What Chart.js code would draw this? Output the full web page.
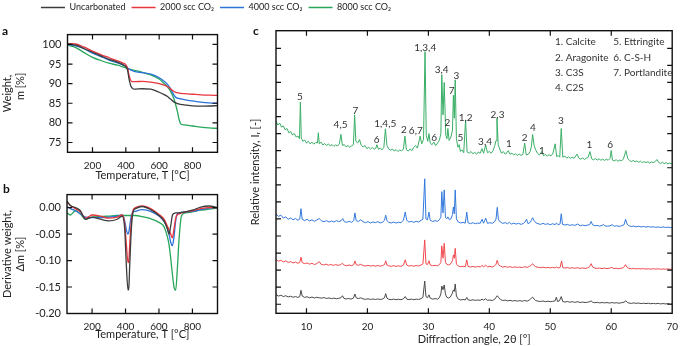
<!DOCTYPE html>
<html>
<head>
<meta charset="utf-8">
<script src="https://cdn.jsdelivr.net/npm/chart.js@4.4.1/dist/chart.umd.min.js"></script>
<style>
  body { margin: 0; background: #fff; }
  #wrap { position: relative; width: 685px; height: 346px; overflow: hidden; }
  canvas { position: absolute; }
</style>
</head>
<body>
<div id="wrap">
  <canvas id="legend" width="432" height="40" style="left:0;top:-3px"></canvas>
  <canvas id="tga" width="228" height="160" style="left:0;top:22px"></canvas>
  <canvas id="dtg" width="228" height="164" style="left:0;top:182px"></canvas>
  <canvas id="xrd" width="453" height="324" style="left:232px;top:22px"></canvas>
</div>
<script>
// series names and colours
const seriesNames = ['Uncarbonated', '2000 scc CO\u2082', '4000 scc CO\u2082', '8000 scc CO\u2082']
const seriesColors = ['#3c3c3c', '#e8363c', '#2b73d8', '#27a65a']
const xrdColors = ['#4a4a4a', '#ef4a4f', '#3379dc', '#3aae66']

// (a) TGA: weight [%] vs temperature [C]
const tgaTemp = [50, 100, 150, 200, 250, 300, 350, 380, 400, 410, 420, 430, 440, 450, 500, 550, 600, 630, 650, 670, 690, 700, 710, 720, 730, 750, 800, 850, 900, 950]
const tgaUncarb = [100.1, 99.8, 98.9, 98.0, 97.1, 96.2, 95.5, 94.9, 94.3, 93.5, 91.0, 89.4, 88.8, 88.6, 88.7, 88.6, 87.8, 87.2, 86.7, 86.0, 85.3, 85.1, 84.9, 84.8, 84.7, 84.6, 84.35, 84.25, 84.3, 84.4]
const tga2000 = [100.2, 100.1, 99.3, 98.3, 97.4, 96.6, 95.8, 95.3, 94.8, 94.0, 92.0, 90.8, 90.5, 90.5, 90.6, 90.4, 90.0, 89.6, 89.2, 88.6, 88.0, 87.8, 87.7, 87.6, 87.5, 87.45, 87.3, 87.15, 87.05, 87.0]
const tga4000 = [100.0, 99.6, 98.9, 97.8, 96.9, 96.0, 95.3, 94.8, 94.4, 94.0, 93.7, 93.5, 93.3, 93.1, 92.8, 92.4, 91.5, 90.6, 89.8, 88.6, 87.0, 86.5, 86.3, 86.2, 86.1, 85.9, 85.6, 85.3, 85.1, 85.0]
const tga8000 = [99.8, 99.2, 97.9, 96.7, 95.9, 95.2, 94.7, 94.3, 94.0, 93.8, 93.7, 93.6, 93.5, 93.4, 92.9, 92.2, 91.2, 90.0, 89.2, 87.9, 86.0, 84.5, 82.8, 80.8, 79.7, 79.5, 79.2, 78.9, 78.7, 78.6]
const tempTicks = [200, 400, 600, 800]
const weightTicks = [75, 80, 85, 90, 95, 100]

// (b) DTG: derivative weight vs temperature
const dtgTemp = [50, 70, 100, 130, 160, 180, 200, 250, 300, 350, 380, 395, 405, 415, 420, 425, 435, 445, 460, 500, 550, 600, 630, 650, 660, 670, 680, 690, 700, 710, 720, 735, 760, 800, 850, 900, 950]
const dtgUncarb = [0.012, 0.004, 0.0, -0.006, -0.022, -0.02, -0.018, -0.022, -0.025, -0.022, -0.016, -0.04, -0.11, -0.156, -0.15, -0.11, -0.04, -0.008, -0.002, 0.002, -0.004, -0.015, -0.025, -0.04, -0.05, -0.035, -0.015, -0.011, -0.01, -0.01, -0.01, -0.009, -0.008, -0.005, 0.001, 0.003, 0.0]
const dtg2000 = [0.01, 0.004, -0.002, -0.008, -0.02, -0.017, -0.014, -0.016, -0.02, -0.018, -0.014, -0.03, -0.07, -0.104, -0.1, -0.07, -0.025, -0.005, 0.0, 0.003, -0.002, -0.013, -0.022, -0.035, -0.042, -0.05, -0.057, -0.04, -0.02, -0.013, -0.012, -0.01, -0.008, -0.006, -0.002, 0.0, 0.0]
const dtg4000 = [0.002, -0.002, -0.006, -0.012, -0.018, -0.019, -0.019, -0.019, -0.018, -0.016, -0.014, -0.025, -0.042, -0.05, -0.046, -0.035, -0.015, -0.009, -0.007, -0.004, -0.007, -0.016, -0.026, -0.038, -0.05, -0.065, -0.072, -0.055, -0.025, -0.012, -0.01, -0.009, -0.008, -0.007, -0.004, -0.001, 0.0]
const dtg8000 = [-0.01, -0.014, -0.006, -0.012, -0.022, -0.02, -0.018, -0.017, -0.016, -0.015, -0.015, -0.015, -0.015, -0.015, -0.015, -0.015, -0.015, -0.015, -0.015, -0.017, -0.021, -0.028, -0.036, -0.055, -0.07, -0.095, -0.125, -0.15, -0.156, -0.115, -0.06, -0.015, -0.01, -0.008, -0.005, -0.003, -0.001]
const dtgTicks = [-0.2, -0.15, -0.1, -0.05, 0]

// (c) XRD: [2theta, relative intensity] (patterns stacked with offsets)
const xrdUncarb = [[5,1.56],[5.4,1.48],[5.8,1.53],[6.2,1.45],[6.6,1.5],[7.0,1.43],[7.4,1.47],[7.8,1.41],[8.2,1.45],[8.6,1.4],[8.9,1.45],[9.1,1.82],[9.3,1.48],[9.7,1.4],[10.1,1.44],[10.5,1.38],[10.9,1.42],[11.3,1.37],[11.7,1.41],[12.1,1.38],[12.5,1.36],[12.9,1.39],[13.3,1.34],[13.7,1.37],[14.1,1.33],[14.5,1.36],[14.9,1.32],[15.3,1.35],[15.65,1.38],[15.9,1.5],[16.15,1.34],[16.5,1.31],[16.9,1.34],[17.3,1.3],[17.7,1.36],[17.95,1.6],[18.15,1.38],[18.5,1.33],[18.9,1.38],[19.3,1.31],[19.7,1.29],[20.1,1.32],[20.5,1.28],[20.9,1.31],[21.3,1.28],[21.7,1.31],[22.1,1.28],[22.5,1.31],[22.8,1.38],[23.0,1.62],[23.2,1.36],[23.5,1.29],[23.9,1.27],[24.3,1.3],[24.7,1.27],[25.1,1.29],[25.5,1.27],[25.9,1.32],[26.2,1.45],[26.45,1.3],[26.8,1.27],[27.2,1.3],[27.6,1.27],[28.0,1.3],[28.4,1.28],[28.8,1.33],[29.1,1.4],[29.4,2.36],[29.6,1.45],[29.85,1.38],[30.1,1.55],[30.3,1.36],[30.7,1.3],[31.1,1.33],[31.5,1.3],[31.8,1.38],[32.05,1.6],[32.2,2.07],[32.4,1.85],[32.6,2.13],[32.8,1.6],[33.0,1.42],[33.3,1.36],[33.6,1.42],[33.9,1.62],[34.1,1.84],[34.25,1.75],[34.4,2.19],[34.6,1.48],[34.9,1.3],[35.3,1.25],[35.7,1.28],[36.05,1.25],[36.3,1.4],[36.5,1.26],[36.9,1.23],[37.3,1.26],[37.7,1.23],[38.1,1.25],[38.5,1.23],[38.8,1.3],[39.05,1.24],[39.4,1.32],[39.7,1.23],[40.1,1.25],[40.5,1.22],[40.9,1.3],[41.1,1.4],[41.3,1.5],[41.55,1.38],[41.8,1.28],[42.2,1.22],[42.6,1.24],[43.0,1.2],[43.4,1.23],[43.8,1.19],[44.2,1.22],[44.6,1.18],[45.0,1.21],[45.4,1.18],[45.8,1.22],[46.2,1.18],[46.6,1.26],[46.85,1.34],[47.1,1.42],[47.35,1.3],[47.6,1.22],[48.0,1.18],[48.4,1.16],[48.8,1.19],[49.2,1.15],[49.6,1.18],[50.0,1.15],[50.4,1.17],[50.8,1.2],[51.0,1.42],[51.2,1.16],[51.5,1.2],[51.8,1.45],[52.05,1.16],[52.4,1.13],[52.8,1.16],[53.2,1.12],[53.6,1.15],[54.0,1.11],[54.5,1.15],[54.9,1.1],[55.3,1.13],[55.7,1.1],[56.1,1.12],[56.5,1.15],[56.7,1.2],[56.95,1.12],[57.3,1.09],[57.7,1.11],[58.1,1.08],[58.5,1.1],[58.9,1.08],[59.3,1.1],[59.7,1.07],[60.1,1.1],[60.5,1.07],[60.9,1.09],[61.3,1.06],[61.7,1.09],[62.1,1.12],[62.4,1.2],[62.65,1.1],[62.9,1.07],[63.3,1.05],[63.7,1.08],[64.1,1.05],[64.5,1.07],[64.9,1.04],[65.3,1.06],[65.7,1.04],[66.1,1.06],[66.5,1.03],[66.9,1.05],[67.3,1.03],[67.7,1.05],[68.1,1.02],[68.5,1.04],[68.9,1.02],[69.3,1.04],[69.7,1.01],[70,1.02]]
const xrd2000 = [[5,3.62],[5.4,3.52],[5.8,3.58],[6.2,3.48],[6.6,3.54],[7.0,3.45],[7.4,3.5],[7.8,3.42],[8.2,3.47],[8.6,3.4],[8.9,3.45],[9.1,3.76],[9.3,3.44],[9.7,3.38],[10.1,3.42],[10.5,3.35],[10.9,3.4],[11.3,3.33],[11.7,3.38],[12.1,3.5],[12.4,3.34],[12.8,3.3],[13.2,3.35],[13.6,3.29],[14.0,3.33],[14.4,3.28],[14.8,3.32],[15.2,3.28],[15.6,3.32],[15.9,3.4],[16.2,3.29],[16.6,3.26],[17.0,3.3],[17.4,3.26],[17.75,3.32],[17.95,3.54],[18.15,3.32],[18.5,3.28],[18.9,3.34],[19.3,3.27],[19.7,3.24],[20.1,3.28],[20.5,3.24],[20.9,3.27],[21.3,3.23],[21.7,3.27],[22.1,3.23],[22.5,3.27],[22.8,3.32],[23.0,3.55],[23.2,3.3],[23.5,3.25],[23.9,3.22],[24.3,3.26],[24.7,3.22],[25.1,3.25],[25.5,3.22],[25.9,3.3],[26.2,3.6],[26.45,3.3],[26.8,3.24],[27.2,3.27],[27.6,3.23],[28.0,3.27],[28.4,3.24],[28.8,3.3],[29.1,3.35],[29.4,4.77],[29.6,3.38],[29.85,3.32],[30.1,3.55],[30.3,3.3],[30.7,3.26],[31.1,3.28],[31.5,3.25],[31.8,3.32],[32.05,3.45],[32.2,4.42],[32.4,3.7],[32.6,4.57],[32.8,3.45],[33.0,3.35],[33.3,3.3],[33.6,3.35],[33.95,3.55],[34.1,3.89],[34.25,3.7],[34.4,4.28],[34.6,3.35],[34.9,3.24],[35.3,3.2],[35.7,3.23],[36.05,3.2],[36.3,3.6],[36.5,3.22],[36.9,3.18],[37.3,3.22],[37.7,3.18],[38.1,3.21],[38.5,3.19],[38.8,3.27],[39.05,3.2],[39.4,3.29],[39.7,3.19],[40.1,3.22],[40.5,3.18],[40.9,3.26],[41.1,3.35],[41.3,3.58],[41.5,3.32],[41.8,3.24],[42.2,3.18],[42.6,3.21],[43.0,3.17],[43.4,3.2],[43.8,3.16],[44.2,3.19],[44.6,3.16],[45.0,3.18],[45.4,3.15],[45.8,3.2],[46.2,3.16],[46.6,3.22],[46.85,3.28],[47.1,3.38],[47.35,3.26],[47.6,3.2],[48.0,3.16],[48.4,3.14],[48.8,3.17],[49.2,3.14],[49.6,3.16],[50.0,3.13],[50.4,3.16],[50.8,3.13],[51.0,3.18],[51.3,3.13],[51.6,3.15],[51.85,3.54],[52.05,3.15],[52.4,3.12],[52.8,3.15],[53.2,3.11],[53.6,3.14],[54.0,3.11],[54.5,3.14],[54.9,3.1],[55.3,3.13],[55.7,3.1],[56.1,3.13],[56.45,3.2],[56.7,3.38],[56.95,3.18],[57.3,3.12],[57.7,3.1],[58.1,3.12],[58.5,3.09],[58.9,3.12],[59.3,3.09],[59.7,3.11],[60.1,3.16],[60.4,3.09],[60.8,3.11],[61.2,3.08],[61.6,3.11],[62.0,3.14],[62.35,3.32],[62.6,3.16],[62.9,3.1],[63.3,3.08],[63.7,3.1],[64.1,3.07],[64.5,3.09],[64.9,3.07],[65.3,3.09],[65.7,3.06],[66.1,3.08],[66.5,3.06],[66.9,3.08],[67.3,3.06],[67.7,3.08],[68.1,3.05],[68.5,3.07],[68.9,3.05],[69.3,3.07],[69.7,3.05],[70,3.06]]
const xrd4000 = [[5,6.28],[5.4,6.15],[5.8,6.22],[6.2,6.05],[6.6,6.12],[7.0,5.98],[7.4,6.05],[7.8,5.95],[8.2,6.02],[8.6,5.92],[8.9,6.0],[9.1,6.6],[9.3,5.98],[9.7,5.9],[10.1,5.98],[10.5,5.88],[10.9,5.95],[11.3,5.86],[11.7,5.94],[12.1,6.02],[12.5,5.88],[12.9,5.84],[13.3,5.9],[13.7,5.82],[14.1,5.88],[14.5,5.82],[14.9,5.9],[15.3,5.84],[15.7,5.9],[15.95,6.02],[16.2,5.84],[16.6,5.8],[17.0,5.86],[17.4,5.8],[17.75,5.9],[17.95,6.35],[18.15,5.9],[18.5,5.85],[18.9,5.95],[19.3,5.84],[19.7,5.78],[20.1,5.84],[20.5,5.76],[20.9,5.82],[21.3,5.78],[21.7,5.84],[22.1,5.76],[22.5,5.82],[22.8,5.92],[23.0,6.22],[23.2,5.9],[23.5,5.8],[23.9,5.76],[24.3,5.82],[24.7,5.76],[25.1,5.8],[25.5,5.78],[25.9,5.92],[26.2,6.4],[26.45,5.92],[26.8,5.82],[27.2,5.86],[27.6,5.8],[28.0,5.86],[28.4,5.82],[28.8,5.92],[29.1,5.98],[29.4,8.35],[29.6,6.0],[29.85,5.95],[30.1,6.4],[30.3,5.92],[30.7,5.85],[31.1,5.9],[31.5,5.86],[31.8,5.95],[32.05,6.1],[32.2,7.6],[32.4,6.35],[32.6,7.7],[32.8,6.1],[33.0,6.0],[33.2,6.12],[33.45,5.95],[33.7,6.0],[33.95,6.25],[34.1,6.7],[34.25,6.3],[34.4,7.7],[34.6,6.0],[34.9,5.82],[35.3,5.76],[35.7,5.8],[36.05,5.75],[36.3,6.4],[36.5,5.78],[36.9,5.72],[37.3,5.78],[37.7,5.72],[38.1,5.76],[38.5,5.74],[38.8,5.98],[39.05,5.75],[39.4,6.05],[39.7,5.74],[40.1,5.78],[40.5,5.74],[40.9,5.85],[41.1,6.0],[41.3,6.68],[41.5,5.95],[41.8,5.82],[42.2,5.74],[42.6,5.78],[43.0,5.72],[43.3,5.8],[43.6,5.7],[44.0,5.75],[44.4,5.7],[44.8,5.74],[45.2,5.68],[45.6,5.74],[45.85,5.82],[46.1,5.98],[46.35,5.72],[46.7,5.8],[46.9,5.92],[47.1,6.07],[47.35,5.9],[47.6,5.78],[48.0,5.72],[48.4,5.68],[48.8,5.74],[49.2,5.68],[49.6,5.72],[50.0,5.66],[50.4,5.72],[50.8,5.66],[51.0,5.76],[51.3,5.66],[51.6,5.7],[51.8,6.3],[52.0,5.68],[52.4,5.64],[52.8,5.68],[53.2,5.62],[53.6,5.66],[54.0,5.62],[54.5,5.7],[54.9,5.6],[55.3,5.64],[55.7,5.6],[56.1,5.64],[56.45,5.66],[56.7,5.85],[56.95,5.65],[57.3,5.6],[57.7,5.62],[58.1,5.58],[58.5,5.62],[58.7,5.68],[58.95,5.6],[59.4,5.57],[59.8,5.6],[60.15,5.66],[60.5,5.57],[60.9,5.6],[61.3,5.56],[61.7,5.6],[62.1,5.66],[62.35,5.98],[62.6,5.7],[62.9,5.6],[63.3,5.56],[63.7,5.58],[64.1,5.54],[64.5,5.57],[64.9,5.53],[65.3,5.56],[65.7,5.52],[66.1,5.55],[66.5,5.52],[66.9,5.54],[67.3,5.51],[67.7,5.53],[68.1,5.5],[68.5,5.53],[68.9,5.5],[69.3,5.52],[69.7,5.49],[70,5.5]]
const xrd8000 = [[5,11.72],[5.3,11.5],[5.6,11.62],[5.9,11.38],[6.2,11.45],[6.5,11.22],[6.8,11.3],[7.1,11.05],[7.4,11.12],[7.7,10.92],[8.0,11.0],[8.3,10.8],[8.6,10.86],[8.85,10.7],[9.0,12.85],[9.15,10.75],[9.4,10.55],[9.7,10.62],[10.0,10.45],[10.3,10.55],[10.6,10.4],[10.9,10.5],[11.2,10.38],[11.5,10.48],[11.8,10.45],[11.95,11.05],[12.1,10.4],[12.4,10.5],[12.7,10.33],[13.0,10.42],[13.3,10.3],[13.6,10.4],[13.9,10.28],[14.2,10.36],[14.5,10.25],[14.8,10.34],[15.1,10.27],[15.4,10.4],[15.65,10.95],[15.9,10.3],[16.2,10.36],[16.5,10.22],[16.8,10.3],[17.1,10.2],[17.4,10.28],[17.7,10.35],[17.9,12.1],[18.1,10.55],[18.4,10.45],[18.7,10.65],[19.0,10.3],[19.3,10.22],[19.6,10.3],[19.9,10.12],[20.2,10.2],[20.5,10.1],[20.8,10.18],[21.1,10.08],[21.4,10.16],[21.55,10.35],[21.8,10.08],[22.1,10.15],[22.4,10.05],[22.7,10.2],[22.95,11.28],[23.2,10.3],[23.5,10.1],[23.8,10.02],[24.1,10.1],[24.4,9.98],[24.7,10.06],[25.0,9.95],[25.3,10.04],[25.6,9.98],[25.9,10.1],[26.15,10.85],[26.4,10.05],[26.7,9.98],[27.0,10.1],[27.3,10.0],[27.6,10.2],[27.9,10.3],[28.2,10.15],[28.5,10.6],[28.65,10.85],[28.9,10.4],[29.2,10.65],[29.45,15.8],[29.65,10.9],[29.9,10.55],[30.1,11.0],[30.3,10.45],[30.6,10.35],[30.9,10.5],[31.2,10.3],[31.5,10.45],[31.8,10.6],[32.05,11.0],[32.2,14.45],[32.4,12.1],[32.6,14.0],[32.85,10.9],[33.05,10.7],[33.2,11.3],[33.4,10.6],[33.7,10.8],[33.95,11.2],[34.1,13.25],[34.25,11.9],[34.4,14.15],[34.6,10.7],[34.85,10.2],[35.05,10.35],[35.25,9.95],[35.5,10.05],[35.8,9.88],[36.1,11.8],[36.35,9.92],[36.7,9.85],[37.0,9.95],[37.3,9.82],[37.6,9.9],[37.9,9.8],[38.2,9.92],[38.5,9.85],[38.8,10.12],[39.05,9.85],[39.4,10.32],[39.7,9.88],[40.0,9.95],[40.3,9.85],[40.6,10.0],[40.9,10.3],[41.1,10.6],[41.25,11.9],[41.45,10.35],[41.7,10.1],[42.0,9.85],[42.3,9.95],[42.6,9.8],[42.9,9.88],[43.1,10.0],[43.4,9.78],[43.7,9.85],[44.0,9.75],[44.3,9.82],[44.6,9.72],[44.9,9.8],[45.2,9.72],[45.5,9.78],[45.8,10.45],[46.05,9.75],[46.4,9.8],[46.7,9.95],[46.9,10.25],[47.1,10.95],[47.35,10.3],[47.6,10.05],[47.9,9.85],[48.2,9.75],[48.6,9.95],[48.9,9.7],[49.2,9.78],[49.5,9.68],[49.8,9.76],[50.1,9.7],[50.4,9.8],[50.8,10.4],[51.05,9.65],[51.3,9.72],[51.55,9.62],[51.8,11.3],[52.05,9.62],[52.4,9.68],[52.7,9.56],[53.0,9.64],[53.3,9.55],[53.6,9.62],[53.9,9.55],[54.4,9.8],[54.7,9.55],[55.0,9.5],[55.3,9.58],[55.6,9.48],[55.9,9.56],[56.2,9.6],[56.5,9.95],[56.8,9.52],[57.1,9.46],[57.4,9.54],[57.7,9.45],[58.0,9.52],[58.3,9.44],[58.6,9.5],[58.9,9.43],[59.2,9.5],[59.5,9.44],[59.8,9.55],[60.0,10.0],[60.2,9.45],[60.5,9.4],[60.8,9.47],[61.1,9.38],[61.4,9.45],[61.7,9.4],[62.0,9.52],[62.2,9.75],[62.4,10.0],[62.7,9.55],[63.0,9.42],[63.3,9.36],[63.6,9.43],[63.9,9.35],[64.2,9.4],[64.5,9.32],[64.8,9.38],[65.1,9.3],[65.4,9.36],[65.7,9.3],[66.0,9.35],[66.3,9.28],[66.6,9.34],[66.9,9.3],[67.2,9.36],[67.5,9.48],[67.8,9.3],[68.1,9.25],[68.4,9.32],[68.7,9.24],[69.0,9.3],[69.3,9.22],[69.6,9.28],[70,9.2]]
const angleTicks = [10, 20, 30, 40, 50, 60, 70]
const intensityTicks = [1, 2, 3, 4, 5, 6, 7, 8, 9, 10, 11, 12, 13, 14, 15, 16]

// phase labels over the 8000 scc pattern
const peakLabels = ['5', '4,5', '7', '6', '1,4,5', '2', '6,7', '1,3,4', '6', '3,4', '2', '7', '3', '5', '1,2', '3,4', '2,3', '1', '2', '4', '1', '3', '1', '6']
const peakLabelAngle = [8.92, 15.59, 18.01, 21.52, 22.92, 25.99, 27.93, 29.48, 30.94, 32.18, 33.1, 33.8, 34.6, 35.25, 36.1, 39.29, 41.34, 43.21, 45.8, 47.16, 48.61, 51.73, 56.41, 59.8]
const peakLabelLevel = [13.16, 11.54, 12.32, 10.63, 11.57, 11.25, 11.15, 16.0, 10.73, 14.73, 11.66, 13.51, 14.37, 10.73, 11.9, 10.53, 12.13, 10.39, 10.76, 11.35, 10.0, 11.76, 10.33, 10.33]
const phaseKey = ['1. Calcite', '2. Aragonite', '3. C3S', '4. C2S', '5. Ettringite', '6. C-S-H', '7. Portlandite']

Chart.defaults.font.family = "Lato, 'DejaVu Sans', sans-serif"
Chart.defaults.color = '#222'
Chart.defaults.animation = false

// box round the plot with inward ticks on all four sides
const frameTicks = {
  id: 'frameTicks',
  afterDraw (chart, args, opts) {
    const { ctx, chartArea: a, scales } = chart
    const len = opts.len || 5
    ctx.save()
    ctx.strokeStyle = '#111'
    ctx.lineWidth = 1.4
    ctx.strokeRect(a.left, a.top, a.right - a.left, a.bottom - a.top)
    ctx.lineWidth = 1.2
    ctx.beginPath()
    scales.x.ticks.forEach((t) => {
      const p = scales.x.getPixelForValue(t.value)
      if (p <= a.left + 1 || p >= a.right - 1) return
      ctx.moveTo(p, a.bottom); ctx.lineTo(p, a.bottom - len)
      ctx.moveTo(p, a.top); ctx.lineTo(p, a.top + len)
    })
    scales.y.ticks.forEach((t) => {
      const p = scales.y.getPixelForValue(t.value)
      if (p <= a.top + 1 || p >= a.bottom - 1) return
      ctx.moveTo(a.left, p); ctx.lineTo(a.left + len, p)
      ctx.moveTo(a.right, p); ctx.lineTo(a.right - len, p)
    })
    ctx.stroke()
    if (opts.letter) {
      ctx.fillStyle = '#111'
      ctx.font = "bold 12px Lato, 'DejaVu Sans', sans-serif"
      ctx.textBaseline = 'middle'
      ctx.fillText(opts.letter, opts.letterX, opts.letterY)
    }
    ctx.restore()
  }
}

function lineSet (xs, ys, i) {
  return {
    label: seriesNames[i],
    data: xs.map((x, k) => ({ x: x, y: ys[k] })),
    borderColor: seriesColors[i],
    borderWidth: 1.3,
    pointRadius: 0,
    cubicInterpolationMode: 'monotone'
  }
}

function fixedTicks (list) {
  return (s) => { s.ticks = list.map((v) => ({ value: v })) }
}

const titleFont = { size: 11, lineHeight: 1.2 }

// legend strip
new Chart(document.getElementById('legend'), {
  type: 'line',
  data: {
    datasets: seriesNames.map((n, i) => ({
      label: n, data: [], borderColor: seriesColors[i], backgroundColor: seriesColors[i], borderWidth: 0
    }))
  },
  options: {
    responsive: false,
    devicePixelRatio: 1,
    layout: { padding: 0 },
    scales: { x: { display: false }, y: { display: false } },
    plugins: {
      tooltip: { enabled: false },
      legend: {
        labels: { boxWidth: 24, boxHeight: 1.5, padding: 6, font: { size: 9 }, color: '#222' }
      }
    }
  }
})

// (a) TGA
new Chart(document.getElementById('tga'), {
  type: 'line',
  data: {
    datasets: [lineSet(tgaTemp, tgaUncarb, 0), lineSet(tgaTemp, tga2000, 1), lineSet(tgaTemp, tga4000, 2), lineSet(tgaTemp, tga8000, 3)]
  },
  options: {
    responsive: false,
    devicePixelRatio: 1,
    layout: { padding: { left: 0, top: 8.5, right: 10.5, bottom: 0 } },
    plugins: {
      legend: { display: false },
      tooltip: { enabled: false },
      frameTicks: { len: 5, letter: 'a', letterX: 2, letterY: 9 }
    },
    scales: {
      x: {
        type: 'linear', min: 50, max: 950,
        afterBuildTicks: fixedTicks(tempTicks),
        afterFit: (s) => { s.height = 29.7 },
        grid: { display: false, drawTicks: false },
        border: { display: false },
        ticks: { padding: 7, font: { size: 10 }, maxRotation: 0 },
        title: { display: true, text: 'Temperature, T [\u00b0C]', font: titleFont, padding: { top: 0, bottom: 0 } }
      },
      y: {
        min: 72.5, max: 102.5,
        afterBuildTicks: fixedTicks(weightTicks),
        afterFit: (s) => { s.width = 67.5 },
        grid: { display: false, drawTicks: false },
        border: { display: false },
        ticks: { padding: 6, font: { size: 11 } },
        title: { display: true, text: ['Weight,', '     m [%]'], font: titleFont, padding: { top: 1, bottom: 0 } }
      }
    }
  },
  plugins: [frameTicks]
})

// (b) DTG
new Chart(document.getElementById('dtg'), {
  type: 'line',
  data: {
    datasets: [lineSet(dtgTemp, dtgUncarb, 0), lineSet(dtgTemp, dtg2000, 1), lineSet(dtgTemp, dtg4000, 2), lineSet(dtgTemp, dtg8000, 3)]
  },
  options: {
    responsive: false,
    devicePixelRatio: 1,
    layout: { padding: { left: 0, top: 11, right: 10.5, bottom: 0 } },
    plugins: {
      legend: { display: false },
      tooltip: { enabled: false },
      frameTicks: { len: 5, letter: 'b', letterX: 3, letterY: 7 }
    },
    scales: {
      x: {
        type: 'linear', min: 50, max: 950,
        afterBuildTicks: fixedTicks(tempTicks),
        afterFit: (s) => { s.height = 32.5 },
        grid: { display: false, drawTicks: false },
        border: { display: false },
        ticks: { padding: 7, font: { size: 10 }, maxRotation: 0 },
        title: { display: true, text: 'Temperature, T [\u00b0C]', font: titleFont, padding: { top: 0, bottom: 5 } }
      },
      y: {
        min: -0.2, max: 0.0245,
        afterBuildTicks: fixedTicks(dtgTicks),
        afterFit: (s) => { s.width = 67 },
        grid: { display: false, drawTicks: false },
        border: { display: false },
        ticks: { padding: 6, font: { size: 11 }, callback: (v) => v.toFixed(2) },
        title: { display: true, text: ['Derivative weight,', '\u0394m [%]'], font: titleFont, padding: { top: 1, bottom: 0 } }
      }
    }
  },
  plugins: [frameTicks]
})

// (c) XRD with phase labels
const phaseText = {
  id: 'phaseText',
  afterDraw (chart) {
    const { ctx, chartArea: a, scales } = chart
    ctx.save()
    ctx.fillStyle = '#333'
    ctx.font = "10px Lato, 'DejaVu Sans', sans-serif"
    ctx.textAlign = 'center'
    ctx.textBaseline = 'middle'
    peakLabels.forEach((t, i) => {
      ctx.fillText(t, scales.x.getPixelForValue(peakLabelAngle[i]), scales.y.getPixelForValue(peakLabelLevel[i]))
    })
    ctx.textAlign = 'left'
    const rows = [11, 26.6, 42, 57]
    phaseKey.forEach((t, i) => {
      const col = i < 4 ? 279 : 337.3
      ctx.fillText(t, a.left + col, a.top + rows[i % 4])
    })
    ctx.restore()
  }
}

function xrdSet (pts, i) {
  return {
    label: seriesNames[i],
    data: pts.map((p) => ({ x: p[0], y: p[1] })),
    borderColor: xrdColors[i],
    borderWidth: 1,
    pointRadius: 0,
    tension: 0
  }
}

new Chart(document.getElementById('xrd'), {
  type: 'line',
  data: {
    datasets: [xrdSet(xrdUncarb, 0), xrdSet(xrd2000, 1), xrdSet(xrd4000, 2), xrdSet(xrd8000, 3)]
  },
  options: {
    responsive: false,
    devicePixelRatio: 1,
    layout: { padding: { left: 0, top: 8.7, right: 5.5, bottom: 0 } },
    plugins: {
      legend: { display: false },
      tooltip: { enabled: false },
      frameTicks: { len: 5, letter: 'c', letterX: 21, letterY: 9.5 }
    },
    scales: {
      x: {
        type: 'linear', min: 5, max: 70,
        afterBuildTicks: fixedTicks(angleTicks),
        afterFit: (s) => { s.height = 32.7 },
        grid: { display: false, drawTicks: false },
        border: { display: false },
        ticks: { padding: 7, font: { size: 10 }, maxRotation: 0 },
        title: { display: true, text: 'Diffraction angle, 2\u03b8 [\u00b0]', font: titleFont, padding: { top: 0, bottom: 0 } }
      },
      y: {
        min: 0.47, max: 17.03,
        afterBuildTicks: fixedTicks(intensityTicks),
        afterFit: (s) => { s.width = 44 },
        grid: { display: false, drawTicks: false },
        border: { display: false },
        ticks: { display: false },
        title: { display: true, text: 'Relative intensity, I\u1d63 [-]', font: titleFont, padding: { top: 17, bottom: 0 } }
      }
    }
  },
  plugins: [frameTicks, phaseText]
})
</script>
</body>
</html>
